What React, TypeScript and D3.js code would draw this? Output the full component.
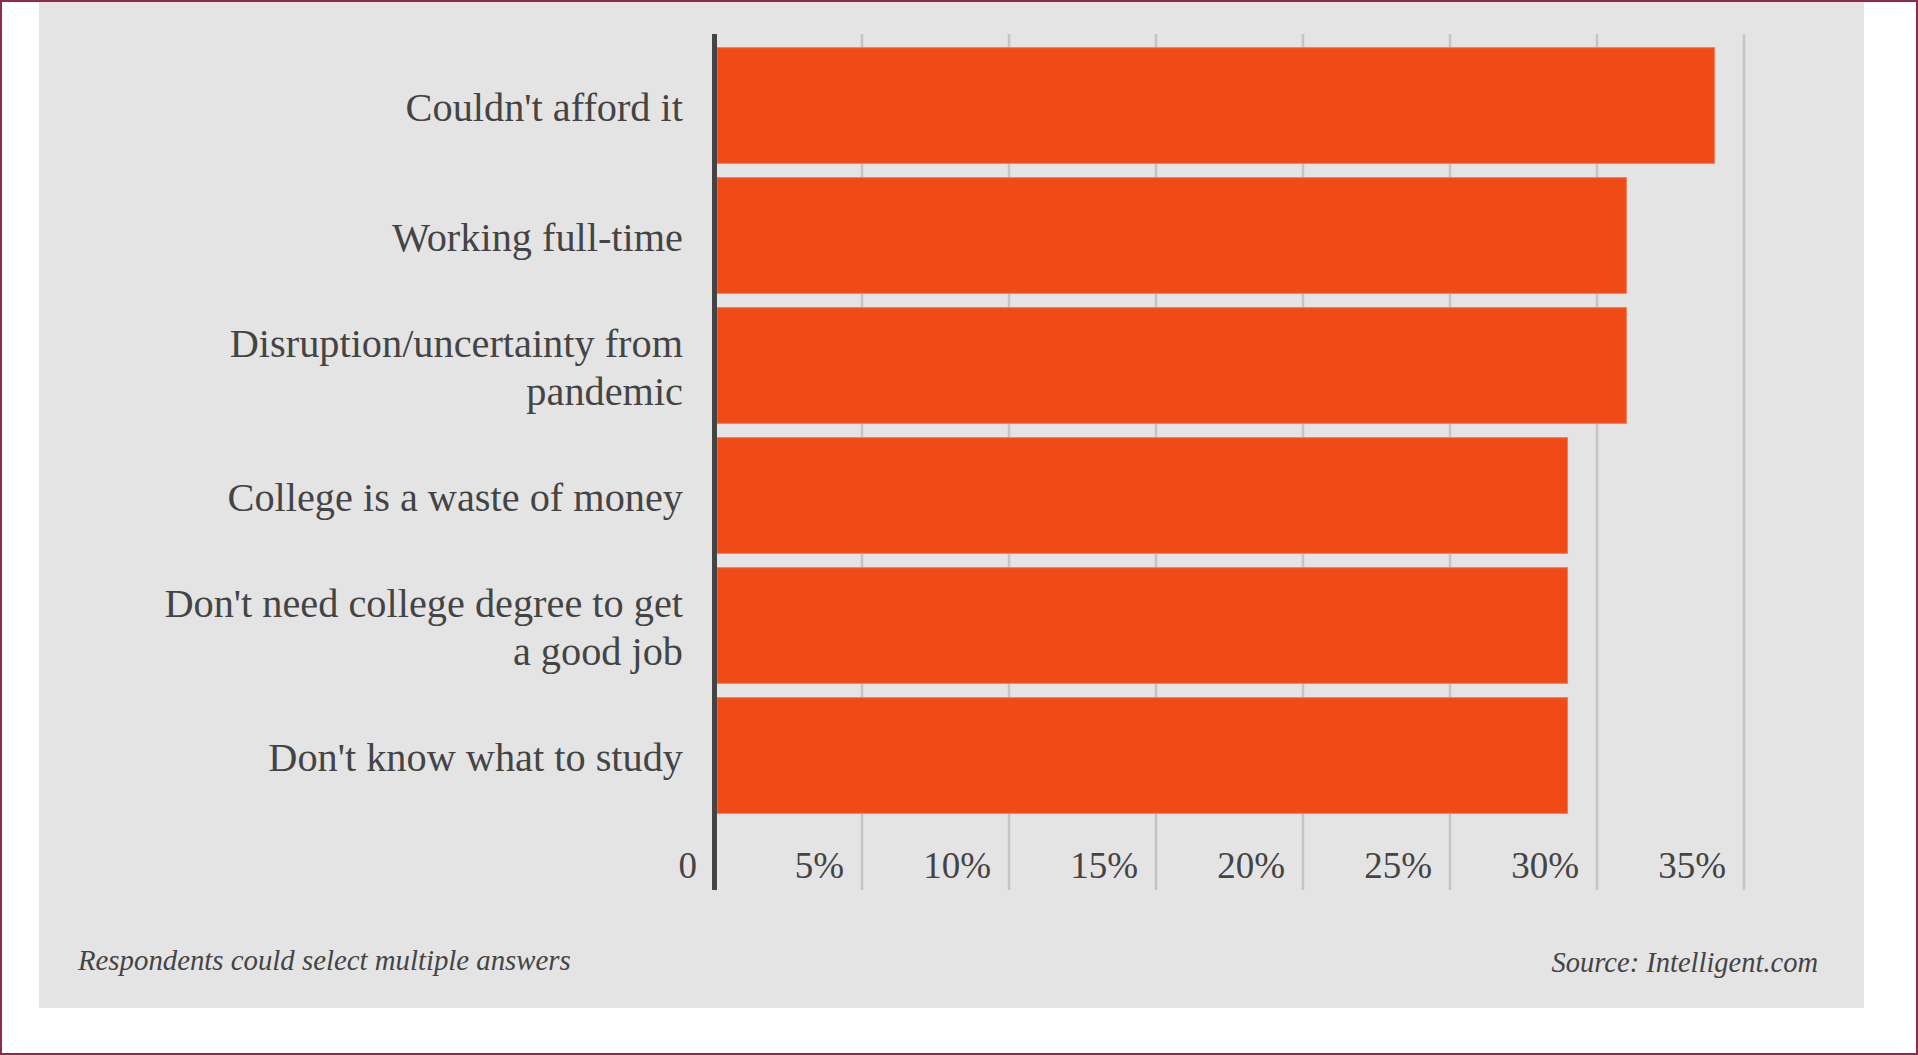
import React from "react";
import * as d3 from "d3";

const categories: string[][] = [
  ["Couldn't afford it"],
  ["Working full-time"],
  ["Disruption/uncertainty from", "pandemic"],
  ["College is a waste of money"],
  ["Don't need college degree to get", "a good job"],
  ["Don't know what to study"],
];
const values: number[] = [34, 31, 31, 29, 29, 29];
const ticks: number[] = [0, 5, 10, 15, 20, 25, 30, 35];
const tickLabels: string[] = ["0", "5%", "10%", "15%", "20%", "25%", "30%", "35%"];
const noteText = "Respondents could select multiple answers";
const sourceText = "Source: Intelligent.com";

const W = 1918;
const H = 1055;
const FONT = "'Liberation Serif', 'Times New Roman', serif";
const TEXT = "#444444";

export default function App() {
  const keys = categories.map((c) => c.join(" "));
  const x = d3.scaleLinear().domain([0, 35]).range([715, 1744]);
  const y = d3
    .scaleBand<string>()
    .domain(keys)
    .range([34, 827])
    .paddingInner(0.11)
    .paddingOuter(0.105);
  const gridTop = 34;
  const gridBottom = 890;
  const bw = y.bandwidth();

  return (
    <svg
      width={W}
      height={H}
      style={{ position: "absolute", left: 0, top: 0, display: "block" }}
      xmlns="http://www.w3.org/2000/svg"
    >
      <rect x={0} y={0} width={W} height={H} fill="#ffffff" />
      <rect x={39} y={2} width={1864 - 39} height={1008 - 2} fill="#e4e4e4" />
      <rect
        x={1}
        y={1}
        width={W - 2}
        height={H - 2}
        fill="none"
        stroke="#8e2a50"
        strokeWidth={2}
      />

      {ticks
        .filter((t) => t > 0)
        .map((t) => (
          <line
            key={"g" + t}
            x1={x(t)}
            x2={x(t)}
            y1={gridTop}
            y2={gridBottom}
            stroke="#c4c4c4"
            strokeWidth={2.5}
          />
        ))}

      {keys.map((k, i) => (
        <rect
          key={"b" + k}
          x={x(0) + 2}
          y={y(k)!}
          width={x(values[i]) - x(0) - 2}
          height={bw}
          fill="#f04b16"
          stroke="#f47a55"
          strokeWidth={1}
        />
      ))}

      <line
        x1={x(0) - 0.5}
        x2={x(0) - 0.5}
        y1={gridTop}
        y2={gridBottom}
        stroke="#444444"
        strokeWidth={5}
      />

      {keys.map((k, i) => {
        const lines = categories[i];
        const c = y(k)! + bw / 2;
        const first = lines.length === 1 ? c + 15.5 : c - 8.5;
        return (
          <text
            key={"l" + k}
            x={683}
            textAnchor="end"
            fontFamily={FONT}
            fontSize={40.3}
            fill={TEXT}
          >
            {lines.map((ln, j) => (
              <tspan key={j} x={683} y={first + j * 48}>
                {ln}
              </tspan>
            ))}
          </text>
        );
      })}

      {ticks.map((t, i) => (
        <text
          key={"t" + t}
          x={x(t) - 18}
          y={878}
          textAnchor="end"
          fontFamily={FONT}
          fontSize={37}
          fill={TEXT}
        >
          {tickLabels[i]}
        </text>
      ))}

      <text
        x={78}
        y={970}
        fontFamily={FONT}
        fontStyle="italic"
        fontSize={28.8}
        fill={TEXT}
      >
        {noteText}
      </text>
      <text
        x={1818}
        y={972}
        textAnchor="end"
        fontFamily={FONT}
        fontStyle="italic"
        fontSize={28.5}
        fill={TEXT}
      >
        {sourceText}
      </text>
    </svg>
  );
}
